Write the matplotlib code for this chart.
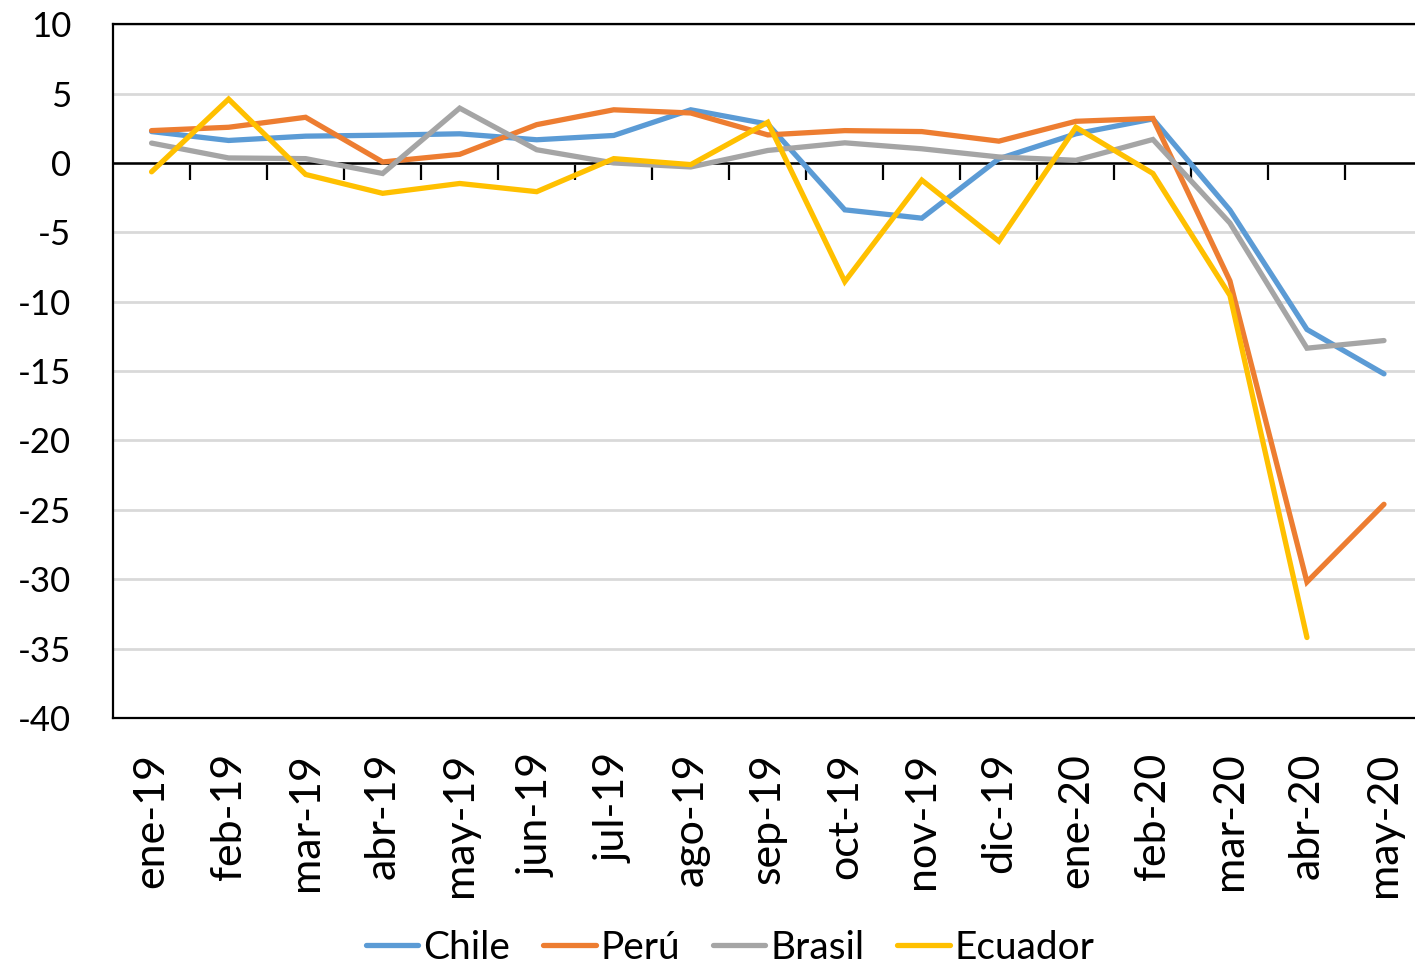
import numpy as np
import matplotlib.pyplot as plt

plt.rcParams['font.family'] = ['Lato', 'DejaVu Sans']
plt.rcParams['axes.unicode_minus'] = False

meses = ['ene-19', 'feb-19', 'mar-19', 'abr-19', 'may-19', 'jun-19', 'jul-19', 'ago-19',
         'sep-19', 'oct-19', 'nov-19', 'dic-19', 'ene-20', 'feb-20', 'mar-20', 'abr-20', 'may-20']

chile = [2.26, 1.62, 1.93, 2.0, 2.1, 1.67, 1.98, 3.83, 2.8, -3.38, -3.98, 0.3, 2.1, 3.17, -3.4, -12.0, -15.2]
peru = [2.33, 2.57, 3.29, 0.07, 0.62, 2.76, 3.83, 3.6, 2.02, 2.33, 2.26, 1.57, 3.0, 3.21, -8.5, -30.2, -24.6]
brasil = [1.43, 0.36, 0.31, -0.76, 3.95, 0.95, 0.0, -0.29, 0.9, 1.45, 1.02, 0.43, 0.19, 1.69, -4.33, -13.35, -12.8]
ecuador = [-0.64, 4.6, -0.83, -2.19, -1.48, -2.07, 0.31, -0.12, 2.93, -8.55, -1.24, -5.64, 2.57, -0.76, -9.55, -34.2, np.nan]

series = [('Chile', chile, '#5B9BD5'), ('Perú', peru, '#ED7D31'),
          ('Brasil', brasil, '#A5A5A5'), ('Ecuador', ecuador, '#FFC000')]

fig = plt.figure(figsize=(14.15, 9.67), dpi=100)
ax = fig.add_axes([0.0799, 0.2575, 0.9254, 0.7175])

x = np.arange(len(meses))
ax.axhline(0, color='black', lw=1.8, zorder=1.5)
for nombre, vals, col in series:
    ax.plot(x, vals, color=col, lw=3.8, label=nombre, solid_capstyle='round',
            solid_joinstyle='miter', zorder=2)

ax.set_xlim(-0.5, len(meses) - 0.5)
ax.set_ylim(-40, 10)
ax.set_yticks(np.arange(-40, 11, 5))
ax.yaxis.grid(True, color='#D9D9D9', lw=2)
ax.set_axisbelow(True)
ax.tick_params(axis='y', length=0, pad=30, labelsize=25)

ax.set_xticks(x)
ax.set_xticklabels(meses, rotation=90)
ax.tick_params(axis='x', length=0, pad=25, labelsize=31)

for s in ['left', 'top', 'bottom']:
    ax.spines[s].set_linewidth(1.6)
    ax.spines[s].set_color('black')
ax.spines['right'].set_visible(False)

# marcas entre categorias, hacia abajo desde el eje en cero
eje0 = ax.secondary_xaxis(0.8)
eje0.set_xticks(np.arange(0.5, len(meses) - 1, 1), labels=[])
eje0.tick_params(axis='x', direction='in', length=12, width=1.6)

fig.legend(loc='lower center', bbox_to_anchor=(0.516, -0.035), ncol=4, frameon=False,
           fontsize=28, handlelength=1.35, handletextpad=0.12, columnspacing=0.85)

fig.savefig('out.png', dpi=100)
